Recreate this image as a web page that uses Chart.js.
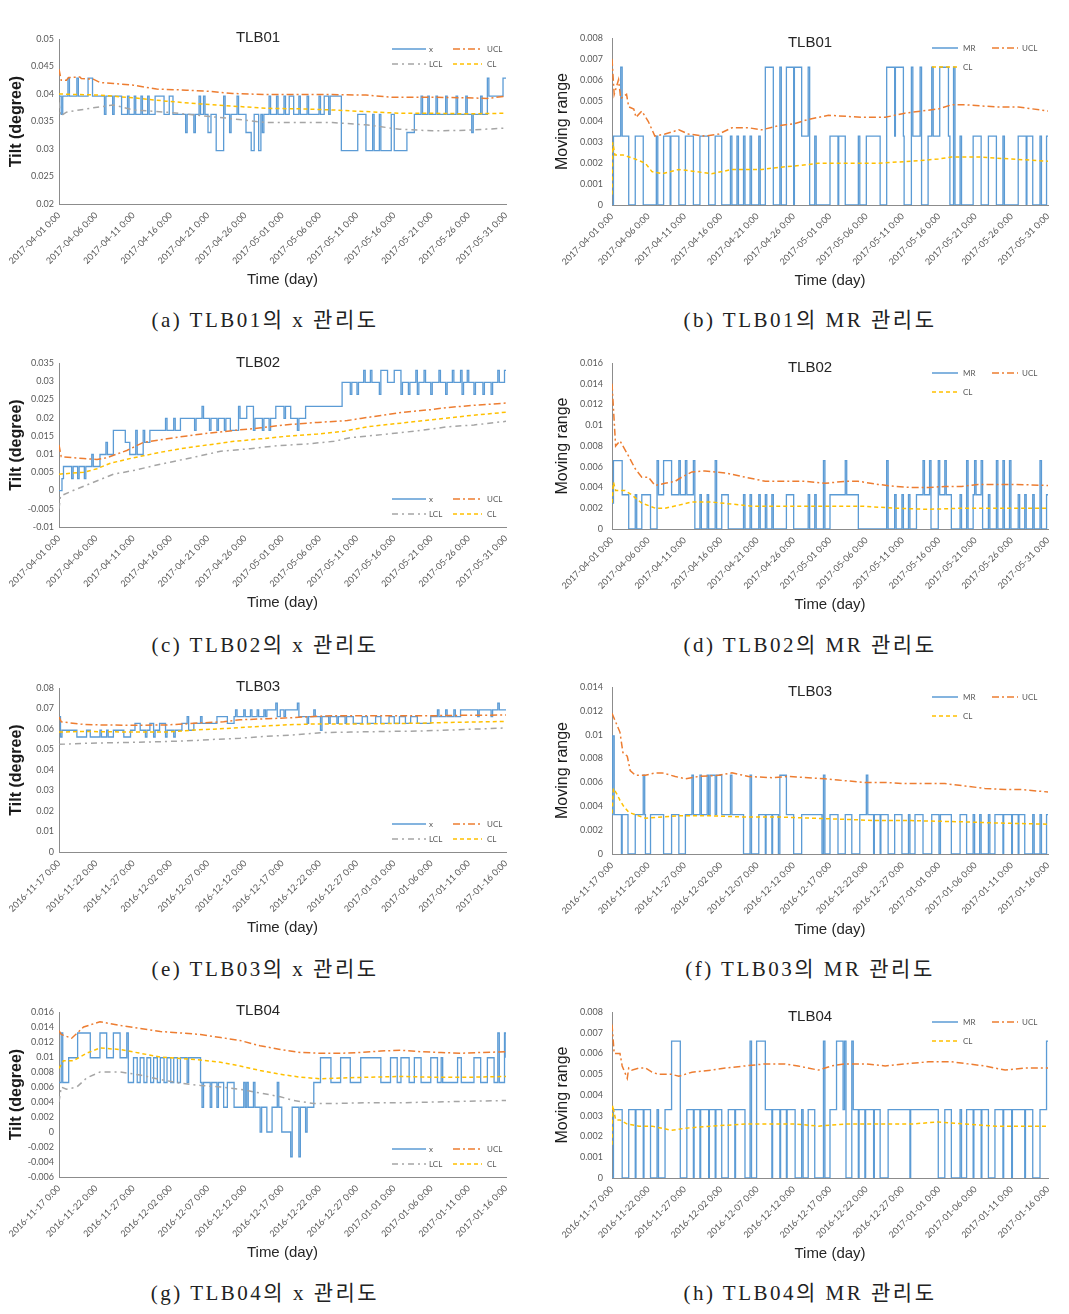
<!DOCTYPE html>
<html lang="ko">
<head>
  <meta charset="UTF-8">
  <title>TLB 관리도</title>
  <script src="https://cdn.jsdelivr.net/npm/chart.js"></script>
  <style>
    body { margin: 0; background: #fff; }
    #page { position: relative; width: 1069px; height: 1314px; overflow: hidden; }
    .caption {
      position: absolute; width: 520px; height: 30px; line-height: 30px;
      text-align: center; white-space: nowrap;
      font-family: "Liberation Serif", "Noto Sans CJK KR", serif;
      font-size: 21px; letter-spacing: 2.5px; color: #222;
    }
  </style>
</head>
<body>
<div id="page"></div>

<script>
  // x축 날짜 라벨 (5일 간격)
  const ticks0401 = ['2017-04-01 0:00', '2017-04-06 0:00', '2017-04-11 0:00', '2017-04-16 0:00', '2017-04-21 0:00', '2017-04-26 0:00', '2017-05-01 0:00', '2017-05-06 0:00', '2017-05-11 0:00', '2017-05-16 0:00', '2017-05-21 0:00', '2017-05-26 0:00', '2017-05-31 0:00'];
  const ticks1117 = ['2016-11-17 0:00', '2016-11-22 0:00', '2016-11-27 0:00', '2016-12-02 0:00', '2016-12-07 0:00', '2016-12-12 0:00', '2016-12-17 0:00', '2016-12-22 0:00', '2016-12-27 0:00', '2017-01-01 0:00', '2017-01-06 0:00', '2017-01-11 0:00', '2017-01-16 0:00'];

  // [day, value] — x / MR 는 계단형(값이 바뀌는 시점)
  const tlb01X = [[0,0.0396],[0.3,0.0363],[0.5,0.0396],[1.2,0.0429],[1.4,0.0396],[2.4,0.0429],[2.6,0.0396],[3.9,0.0429],[4.5,0.0396],[6.1,0.0363],[6.3,0.0396],[7.2,0.0363],[7.4,0.0396],[8.4,0.0363],[9.2,0.0396],[9.4,0.0363],[10.1,0.0396],[10.3,0.0363],[11.0,0.0396],[11.2,0.0363],[11.9,0.0396],[12.1,0.0363],[12.9,0.0396],[14.1,0.0363],[14.8,0.0396],[15.3,0.0363],[17.0,0.033],[17.2,0.0363],[18.1,0.033],[18.3,0.0363],[18.8,0.0396],[19.0,0.0363],[19.4,0.0396],[19.6,0.0363],[20.0,0.033],[20.4,0.0363],[21.1,0.0297],[22.1,0.0396],[22.3,0.0363],[22.9,0.033],[23.1,0.0363],[23.9,0.0396],[24.1,0.0363],[25.1,0.033],[25.8,0.0297],[26.2,0.0363],[26.8,0.0297],[27.1,0.0363],[27.3,0.033],[27.5,0.0363],[28.2,0.0396],[28.4,0.0363],[29.2,0.0396],[29.4,0.0363],[30.2,0.0396],[30.4,0.0363],[30.9,0.0396],[31.5,0.0363],[32.2,0.0396],[32.4,0.0363],[33.3,0.0396],[33.5,0.0363],[34.9,0.0396],[35.1,0.0363],[35.6,0.0396],[36.2,0.0363],[36.4,0.0396],[37.9,0.0297],[40.1,0.0363],[41.2,0.0297],[42.1,0.0363],[42.3,0.0297],[43.0,0.0363],[43.2,0.0297],[44.6,0.0363],[45.0,0.0297],[46.7,0.033],[47.7,0.0363],[48.6,0.0396],[48.8,0.0363],[49.5,0.0396],[49.7,0.0363],[50.6,0.0396],[50.8,0.0363],[51.9,0.0396],[52.1,0.0363],[53.3,0.0396],[53.5,0.0363],[54.6,0.0396],[54.8,0.0363],[55.4,0.033],[55.6,0.0363],[56.6,0.0396],[56.8,0.0363],[57.5,0.0429],[57.7,0.0396],[59.6,0.0429],[60,0.0429]];
  const tlb01XUcl = [[0,0.0445],[0.3,0.0425],[1.0,0.0425],[1.3,0.043],[2.8,0.0431],[3.0,0.0428],[4.6,0.0427],[5.5,0.0421],[7.3,0.0419],[10.0,0.0416],[13.1,0.0409],[17.1,0.0407],[20.0,0.0405],[23.3,0.0401],[27.8,0.0399],[32.3,0.0399],[36.7,0.0399],[41.2,0.0398],[44.8,0.0394],[50.1,0.0394],[54.6,0.0393],[57.5,0.0392],[60,0.0396]];
  const tlb01XCl = [[0,0.04],[5.5,0.0398],[10.0,0.0393],[14.4,0.0387],[18.9,0.0382],[23.3,0.0378],[27.8,0.0374],[32.3,0.0373],[36.7,0.0371],[41.2,0.0368],[45.7,0.0365],[50.1,0.0365],[54.6,0.0364],[60,0.0365]];
  const tlb01XLcl = [[0,0.0385],[0.2,0.036],[1.0,0.0367],[4.6,0.0375],[7.3,0.038],[10.0,0.0371],[14.4,0.0367],[18.9,0.0361],[23.3,0.0355],[27.8,0.0348],[32.3,0.0348],[36.7,0.0348],[41.2,0.0344],[45.7,0.0336],[50.1,0.0333],[54.6,0.0334],[60,0.0338]];

  const tlb01Mr = [[0,0],[0.2,0.0033],[1.2,0.0066],[1.4,0.0033],[2.3,0],[3.2,0.0033],[4.3,0],[6.1,0.0033],[6.3,0],[7.1,0.0033],[8.0,0],[8.1,0.0033],[9.2,0],[10.1,0.0033],[11.2,0],[12.1,0.0033],[13.3,0],[14.2,0.0033],[15.1,0],[16.3,0.0033],[16.5,0],[17.2,0.0033],[17.4,0],[18.1,0.0033],[18.3,0],[19.0,0.0033],[19.2,0],[20.2,0.0033],[20.4,0],[21.1,0.0066],[22.2,0],[23.1,0.0066],[23.3,0],[24.0,0.0066],[25.0,0],[25.1,0.0066],[26.1,0.0033],[27.0,0.0066],[27.2,0],[27.9,0.0033],[28.1,0],[30.0,0.0033],[31.1,0],[31.2,0.0033],[32.1,0],[33.9,0.0033],[34.1,0],[35.0,0.0033],[36.9,0],[37.8,0.0066],[38.9,0.0033],[39.0,0.0066],[40.1,0.0033],[40.2,0],[41.2,0.0066],[41.4,0.0033],[42.4,0.0066],[42.6,0],[43.5,0.0033],[44.0,0.0066],[44.2,0.0033],[45.1,0.0066],[46.3,0.0033],[46.5,0],[47.0,0.0066],[47.2,0],[47.9,0.0033],[48.1,0],[49.7,0.0033],[50.8,0],[51.8,0.0033],[52.9,0],[53.8,0.0033],[54.0,0],[55.9,0.0033],[57.0,0],[57.1,0.0033],[57.9,0],[58.9,0.0033],[59.1,0],[59.8,0.0033],[60,0.0033]];
  const tlb01MrUcl = [[0,0.007],[0.3,0.0053],[0.9,0.006],[1.2,0.0051],[2.0,0.0053],[2.3,0.0047],[3.0,0.0046],[3.3,0.0042],[4.1,0.0045],[5.0,0.004],[5.9,0.0033],[7.3,0.0034],[9.2,0.0036],[10.5,0.0034],[12.8,0.0033],[14.7,0.0034],[16.5,0.0037],[18.8,0.0037],[20.6,0.0036],[22.9,0.0038],[25.2,0.0039],[27.0,0.0041],[29.8,0.0043],[34.4,0.0042],[37.6,0.0042],[40.3,0.0044],[42.6,0.0045],[44.9,0.0046],[46.7,0.0048],[48.6,0.0048],[52.7,0.0047],[55.9,0.0047],[60,0.0045]];
  const tlb01MrCl = [[0,0.0005],[0.1,0.003],[0.4,0.0024],[1.5,0.0024],[3.2,0.0022],[4.6,0.002],[5.5,0.0016],[6.9,0.0015],[9.2,0.0017],[11.5,0.0016],[13.7,0.0015],[16.5,0.0017],[20.6,0.0017],[22.9,0.0018],[26.1,0.0019],[28.4,0.002],[32.1,0.002],[36.7,0.002],[41.2,0.0021],[44.9,0.0022],[46.7,0.0023],[50.4,0.0023],[55.0,0.0022],[60,0.0021]];

  const tlb02X = [[0,0.0],[0.4,0.0033],[0.6,0.0066],[1.7,0.0033],[1.9,0.0066],[2.5,0.0033],[2.7,0.0066],[3.4,0.0033],[3.6,0.0066],[4.4,0.0099],[4.6,0.0066],[5.5,0.0099],[6.3,0.0132],[6.5,0.0099],[7.3,0.0165],[8.9,0.0132],[9.5,0.0099],[10.3,0.0165],[10.5,0.0099],[11.3,0.0165],[11.5,0.0132],[12.2,0.0165],[14.3,0.0198],[14.5,0.0165],[15.4,0.0198],[15.6,0.0165],[16.3,0.0198],[18.2,0.0165],[18.4,0.0198],[19.2,0.0231],[19.4,0.0198],[20.2,0.0165],[20.4,0.0198],[21.2,0.0165],[21.4,0.0198],[22.2,0.0165],[22.4,0.0198],[23.0,0.0165],[24.1,0.0231],[24.3,0.0198],[25.2,0.0231],[26.1,0.0165],[26.3,0.0198],[27.3,0.0165],[27.5,0.0198],[28.2,0.0165],[28.4,0.0198],[29.1,0.0231],[30.2,0.0198],[30.4,0.0231],[31.1,0.0198],[32.0,0.0165],[32.2,0.0198],[33.1,0.0231],[38.0,0.0297],[39.1,0.0264],[39.3,0.0297],[40.0,0.0264],[40.2,0.0297],[40.9,0.033],[41.1,0.0297],[41.8,0.033],[42.0,0.0297],[43.0,0.0264],[43.2,0.033],[44.1,0.0297],[45.0,0.033],[45.9,0.0264],[46.1,0.0297],[46.9,0.0264],[47.1,0.0297],[47.9,0.033],[48.1,0.0264],[48.3,0.0297],[49.0,0.033],[49.2,0.0297],[49.9,0.0264],[50.1,0.0297],[51.0,0.033],[51.2,0.0297],[51.9,0.0264],[52.1,0.0297],[52.8,0.033],[53.0,0.0297],[53.9,0.033],[54.1,0.0264],[54.3,0.0297],[54.8,0.033],[55.0,0.0297],[55.7,0.0264],[55.9,0.0297],[56.9,0.0264],[57.1,0.0297],[58.0,0.0264],[58.2,0.0297],[58.9,0.033],[59.1,0.0297],[59.8,0.033],[60,0.033]];
  const tlb02XUcl = [[0,0.0125],[0.3,0.0093],[3.3,0.0088],[5.1,0.0085],[6.4,0.009],[9.1,0.011],[11.3,0.0132],[14.5,0.0142],[17.2,0.015],[19.9,0.0157],[23.5,0.0165],[27.1,0.0172],[30.2,0.018],[34.7,0.0187],[38.7,0.0192],[40.5,0.0198],[43.2,0.0206],[45.9,0.0214],[49.9,0.0222],[52.2,0.0228],[55.7,0.0234],[60,0.024]];
  const tlb02XCl = [[0,0.0045],[3.3,0.005],[5.1,0.006],[6.9,0.0075],[10.0,0.009],[13.6,0.0105],[16.3,0.0115],[19.9,0.0125],[23.5,0.0135],[27.1,0.0142],[31.1,0.015],[34.7,0.0155],[38.3,0.0163],[41.4,0.0175],[45.9,0.0185],[50.4,0.0195],[54.8,0.0205],[60,0.0215]];
  const tlb02XLcl = [[0,-0.005],[0.2,-0.0015],[1.9,0],[3.7,0.0015],[5.5,0.003],[7.3,0.0045],[10.0,0.0055],[12.7,0.0068],[15.4,0.008],[18.9,0.0095],[21.7,0.0108],[25.7,0.0115],[29.3,0.0123],[33.3,0.0128],[36.9,0.0135],[39.1,0.0145],[44.1,0.0155],[48.6,0.0165],[52.2,0.0175],[55.7,0.018],[60,0.019]];

  const tlb02Mr = [[0,0.0025],[0.2,0.0066],[1.4,0.0033],[2.3,0],[3.2,0.0033],[3.4,0],[4.1,0.0033],[5.3,0],[6.2,0.0066],[6.4,0.0033],[7.1,0.0066],[8.2,0.0033],[9.2,0.0066],[9.4,0.0033],[10.1,0.0066],[10.3,0.0033],[11.2,0.0066],[11.4,0],[12.1,0.0033],[12.3,0],[13.1,0.0033],[13.3,0],[14.2,0.0066],[14.4,0],[15.1,0.0033],[16.0,0],[18.1,0.0033],[18.3,0],[19.0,0.0033],[19.2,0],[20.2,0.0033],[20.4,0],[21.1,0.0033],[21.3,0],[22.0,0.0033],[22.2,0],[24.0,0.0033],[25.0,0],[27.0,0.0033],[27.2,0],[27.9,0.0033],[28.1,0],[29.1,0.0066],[29.3,0],[30.0,0.0033],[32.1,0.0066],[32.3,0.0033],[33.9,0],[37.8,0.0066],[38.0,0],[38.9,0.0033],[39.1,0],[39.9,0.0033],[40.1,0],[40.8,0.0033],[41.0,0],[41.9,0.0033],[42.8,0.0066],[43.0,0.0033],[43.7,0.0066],[43.9,0],[44.9,0.0066],[45.1,0.0033],[45.8,0.0066],[46.0,0.0033],[46.7,0],[47.9,0.0033],[48.1,0],[48.8,0.0066],[49.0,0],[49.7,0.0033],[49.9,0.0066],[50.1,0.0033],[50.8,0.0066],[51.0,0],[51.8,0.0033],[52.0,0],[52.9,0.0066],[53.1,0],[53.8,0.0066],[54.0,0],[54.7,0.0066],[54.9,0],[55.9,0.0033],[56.1,0],[56.8,0.0033],[57.0,0],[57.9,0.0033],[58.1,0],[58.9,0.0066],[59.1,0],[59.8,0.0033],[60,0.0033]];
  const tlb02MrUcl = [[0,0.014],[0.5,0.008],[1.1,0.0085],[2.3,0.007],[3.2,0.0058],[4.1,0.005],[5.0,0.005],[5.9,0.0042],[7.3,0.0044],[8.7,0.0046],[9.6,0.005],[11.0,0.0055],[12.8,0.0056],[15.6,0.0054],[18.3,0.005],[21.1,0.0046],[23.8,0.0046],[26.6,0.0046],[29.3,0.0044],[32.1,0.0046],[33.9,0.0046],[36.6,0.0043],[38.9,0.0041],[41.2,0.004],[43.5,0.004],[45.8,0.0041],[48.1,0.0041],[50.4,0.0043],[55.0,0.0043],[60,0.0042]];
  const tlb02MrCl = [[0,0.0025],[0.2,0.0045],[0.5,0.0037],[1.8,0.0037],[2.7,0.0033],[4.1,0.0025],[6.0,0.002],[7.3,0.002],[9.2,0.0023],[11.0,0.0026],[13.7,0.0026],[16.5,0.0024],[19.2,0.0022],[22.9,0.0022],[27.5,0.0022],[32.1,0.0022],[34.4,0.0022],[39.0,0.002],[43.5,0.0019],[48.1,0.002],[52.7,0.002],[60,0.002]];

  const tlb03X = [[0,0.066],[0.2,0.0561],[0.4,0.0594],[2.4,0.0561],[3.7,0.0594],[4.2,0.0561],[5.5,0.0594],[5.7,0.0561],[6.4,0.0594],[6.6,0.0561],[7.3,0.0594],[8.7,0.0561],[9.6,0.0594],[10.2,0.0627],[10.9,0.0594],[11.6,0.0561],[11.8,0.0594],[12.2,0.0627],[12.7,0.0561],[12.9,0.0594],[13.5,0.0627],[14.3,0.0561],[14.5,0.0594],[15.4,0.0561],[15.6,0.0594],[16.5,0.0627],[17.2,0.066],[17.4,0.0594],[18.1,0.0627],[19.0,0.066],[19.2,0.0627],[21.2,0.066],[22.6,0.0627],[23.5,0.066],[23.7,0.0693],[23.9,0.066],[24.8,0.0693],[25.0,0.066],[25.7,0.0693],[25.9,0.066],[26.6,0.0693],[26.8,0.066],[27.5,0.0693],[27.7,0.066],[27.9,0.0693],[29.1,0.0726],[29.3,0.066],[29.7,0.0693],[30.2,0.066],[30.4,0.0693],[32.0,0.0726],[32.2,0.066],[33.3,0.0627],[33.5,0.066],[34.2,0.0693],[34.4,0.066],[35.1,0.0594],[35.3,0.066],[36.2,0.0627],[36.4,0.066],[37.3,0.0627],[37.5,0.066],[38.4,0.0627],[38.6,0.066],[39.5,0.0627],[40.7,0.066],[41.4,0.0627],[42.5,0.066],[43.2,0.0627],[44.3,0.066],[45.0,0.0627],[45.7,0.066],[46.5,0.0627],[47.2,0.066],[48.1,0.0627],[49.9,0.066],[50.8,0.0693],[51.0,0.066],[51.9,0.0693],[52.1,0.066],[53.0,0.0693],[53.2,0.066],[53.9,0.0693],[56.2,0.066],[56.4,0.0693],[58.0,0.066],[58.2,0.0693],[58.9,0.0726],[59.1,0.0693],[60,0.0693]];
  const tlb03XUcl = [[0,0.066],[0.3,0.0635],[3.3,0.0622],[5.5,0.062],[10.0,0.0618],[14.5,0.062],[17.2,0.0625],[19.0,0.063],[22.1,0.0635],[24.3,0.0645],[27.9,0.065],[31.1,0.0655],[34.7,0.0662],[36.9,0.0665],[41.4,0.0665],[45.9,0.0665],[50.4,0.0665],[54.8,0.0667],[60,0.0668]];
  const tlb03XCl = [[0,0.0585],[3.3,0.0588],[10.0,0.0585],[14.5,0.0585],[18.1,0.0595],[21.2,0.06],[25.7,0.061],[30.2,0.062],[34.7,0.0625],[41.4,0.0625],[48.1,0.0628],[52.6,0.0632],[60,0.0637]];
  const tlb03XLcl = [[0,0.0525],[3.3,0.053],[10.0,0.0535],[15.4,0.054],[18.9,0.0545],[21.2,0.055],[24.3,0.0555],[27.9,0.0565],[31.1,0.057],[35.1,0.0582],[39.1,0.0585],[43.6,0.0588],[48.1,0.059],[52.6,0.0595],[56.2,0.06],[60,0.0605]];

  const tlb03Mr = [[0,0.0033],[0.1,0.0099],[0.3,0.0033],[1.3,0],[1.4,0.0033],[2.2,0],[3.2,0.0033],[4.3,0.0066],[4.5,0.0033],[4.6,0],[5.3,0.0033],[7.1,0],[8.2,0.0033],[9.2,0],[10.1,0.0033],[11.0,0.0066],[11.2,0.0033],[12.1,0.0066],[12.3,0.0033],[13.1,0.0066],[13.3,0.0033],[13.5,0.0066],[14.2,0.0033],[14.4,0.0066],[15.1,0.0033],[16.3,0.0066],[16.5,0.0033],[18.1,0],[19.0,0.0066],[19.2,0],[20.2,0.0033],[21.1,0],[21.2,0.0033],[22.0,0],[22.1,0.0033],[22.9,0],[23.1,0.0066],[24.0,0.0033],[25.0,0],[26.1,0.0033],[28.9,0],[29.1,0.0066],[29.3,0],[30.0,0.0033],[31.1,0],[32.1,0.0033],[33.0,0],[34.1,0.0033],[35.0,0.0066],[35.2,0.0033],[36.0,0],[36.1,0.0033],[36.9,0],[37.0,0.0033],[38.0,0],[38.9,0.0033],[39.9,0],[40.8,0.0033],[41.0,0],[41.7,0.0033],[42.8,0],[44.0,0.0033],[45.0,0],[45.2,0.0033],[46.7,0],[47.9,0.0033],[48.8,0],[49.7,0.0033],[49.9,0],[50.6,0.0033],[50.8,0],[51.8,0.0033],[52.0,0],[52.7,0.0033],[53.8,0],[53.9,0.0033],[55.0,0],[55.1,0.0033],[55.9,0],[56.0,0.0033],[56.8,0],[57.9,0.0033],[58.1,0],[58.9,0.0033],[59.1,0],[59.8,0.0033],[60,0.0033]];
  const tlb03MrUcl = [[0,0.0118],[1.1,0.0102],[1.5,0.0085],[2.1,0.0082],[2.5,0.007],[3.2,0.0066],[4.6,0.0066],[5.9,0.0068],[6.9,0.0068],[8.7,0.0065],[10.1,0.0063],[11.9,0.0065],[14.7,0.0066],[16.5,0.0068],[18.8,0.0065],[22.0,0.0064],[24.3,0.0065],[27.0,0.0064],[29.3,0.0063],[31.1,0.0062],[34.8,0.006],[37.6,0.006],[40.3,0.0059],[43.5,0.0059],[45.8,0.0059],[48.6,0.0057],[51.3,0.0055],[54.1,0.0054],[56.4,0.0054],[60,0.0052]];
  const tlb03MrCl = [[0,0.0034],[0.2,0.0055],[0.7,0.005],[1.1,0.0045],[1.6,0.004],[2.3,0.0035],[3.2,0.0033],[4.6,0.003],[9.2,0.0032],[13.7,0.0032],[18.3,0.0031],[22.9,0.0031],[27.5,0.003],[32.1,0.0029],[36.6,0.0028],[41.2,0.0028],[48.1,0.0027],[52.7,0.0026],[60,0.0025]];

  const tlb04X = [[0,0.0066],[0.3,0.0132],[0.5,0.0066],[1.3,0.0099],[2.5,0.0132],[4.2,0.0099],[5.5,0.0132],[6.4,0.0099],[7.3,0.0132],[8.2,0.0099],[9.1,0.0132],[9.3,0.0066],[10.0,0.0099],[10.5,0.0066],[10.9,0.0099],[11.4,0.0066],[11.8,0.0099],[12.3,0.0066],[12.7,0.0099],[13.2,0.0066],[13.6,0.0099],[14.1,0.0066],[14.5,0.0099],[15.0,0.0066],[15.4,0.0099],[15.9,0.0066],[16.3,0.0099],[17.2,0.0066],[17.4,0.0099],[19.0,0.0066],[19.2,0.0033],[19.4,0.0066],[20.3,0.0033],[20.5,0.0066],[21.2,0.0033],[21.4,0.0066],[22.1,0.0033],[22.6,0.0066],[23.5,0.0033],[24.8,0.0066],[25.0,0.0033],[25.2,0.0066],[25.4,0.0033],[26.1,0.0066],[26.3,0.0033],[27.0,0],[27.2,0.0033],[27.9,0],[28.6,0.0033],[29.3,0.0066],[29.5,0.0033],[29.9,0],[31.1,-0.0033],[31.3,0.0033],[32.2,-0.0033],[32.4,0.0033],[33.1,0],[33.3,0.0033],[34.2,0.0066],[35.1,0.0099],[36.5,0.0066],[37.8,0.0099],[39.1,0.0066],[40.5,0.0099],[43.2,0.0066],[44.5,0.0099],[45.4,0.0066],[45.9,0.0099],[47.0,0.0066],[47.7,0.0099],[48.6,0.0066],[49.9,0.0099],[50.8,0.0066],[51.3,0.0099],[51.5,0.0066],[53.5,0.0099],[54.0,0.0066],[55.7,0.0099],[56.6,0.0066],[57.5,0.0099],[58.4,0.0066],[58.9,0.0132],[59.1,0.0066],[59.8,0.0132],[60,0.0099]];
  const tlb04XUcl = [[0,0.0135],[0.3,0.013],[1.7,0.0125],[3.3,0.014],[5.5,0.0147],[8.2,0.0142],[10.9,0.0138],[13.6,0.0134],[16.3,0.0132],[19.0,0.013],[21.7,0.0126],[24.3,0.0122],[27.0,0.0115],[29.7,0.011],[32.4,0.0106],[35.1,0.0105],[37.8,0.0105],[40.5,0.0106],[43.2,0.0108],[45.9,0.0109],[48.6,0.0107],[51.3,0.0106],[54.0,0.0105],[56.6,0.0106],[60,0.0107]];
  const tlb04XCl = [[0,0.0085],[0.6,0.0095],[1.9,0.0095],[3.7,0.0105],[5.5,0.0112],[8.2,0.011],[10.9,0.0105],[13.6,0.01],[16.3,0.0098],[19.0,0.0096],[21.7,0.0093],[24.3,0.0088],[27.0,0.0082],[29.7,0.0077],[32.4,0.0073],[35.1,0.0071],[37.8,0.0072],[41.4,0.0073],[45.9,0.0074],[50.4,0.0073],[54.8,0.0073],[60,0.0074]];
  const tlb04XLcl = [[0,0.004],[0.3,0.006],[1.0,0.0057],[2.4,0.006],[3.7,0.0072],[5.5,0.008],[8.2,0.008],[10.9,0.0076],[13.6,0.007],[16.3,0.0065],[19.0,0.0062],[21.7,0.006],[24.3,0.0057],[27.0,0.0052],[29.7,0.0047],[31.5,0.0042],[34.2,0.0038],[36.9,0.0038],[41.4,0.0039],[45.9,0.0039],[50.4,0.004],[54.8,0.0041],[60,0.0042]];

  const tlb04Mr = [[0,0],[0.2,0.0033],[1.4,0],[2.3,0.0033],[3.2,0],[3.3,0.0033],[4.3,0],[4.4,0.0033],[5.3,0],[6.2,0.0033],[6.4,0],[7.3,0.0033],[8.2,0.0066],[9.4,0],[10.3,0.0033],[11.2,0],[11.3,0.0033],[12.1,0],[12.2,0.0033],[13.3,0],[13.4,0.0033],[14.2,0],[14.3,0.0033],[15.1,0],[16.0,0.0033],[16.9,0],[17.0,0.0033],[18.3,0],[19.0,0.0066],[19.2,0],[19.9,0.0066],[21.1,0.0033],[22.0,0],[22.1,0.0033],[23.1,0],[23.2,0.0033],[24.0,0],[24.1,0.0033],[25.2,0],[26.1,0.0033],[26.3,0],[27.0,0.0033],[27.9,0],[29.1,0.0066],[29.3,0],[30.0,0.0033],[30.9,0.0066],[31.8,0.0033],[32.0,0.0066],[32.2,0],[33.0,0.0066],[33.2,0.0033],[33.9,0],[34.0,0.0033],[34.8,0],[34.9,0.0033],[36.0,0],[36.1,0.0033],[36.9,0],[38.0,0.0033],[41.0,0],[41.1,0.0033],[44.9,0],[45.8,0.0033],[46.7,0],[47.9,0.0033],[48.1,0],[48.8,0.0033],[49.7,0],[49.8,0.0033],[50.8,0],[50.9,0.0033],[51.8,0],[52.7,0.0033],[53.8,0],[53.9,0.0033],[55.0,0],[55.1,0.0033],[56.8,0],[56.9,0.0033],[57.9,0],[58.9,0.0033],[59.8,0.0066],[60,0.0066]];
  const tlb04MrUcl = [[0,0.0074],[0.3,0.006],[1.1,0.006],[1.4,0.0054],[2.1,0.0048],[2.3,0.0053],[2.7,0.0052],[3.7,0.0053],[4.6,0.0053],[5.5,0.0051],[6.4,0.005],[8.2,0.005],[9.2,0.0049],[11.0,0.0051],[13.7,0.0052],[15.6,0.0053],[18.3,0.0054],[21.1,0.0055],[23.8,0.0055],[25.6,0.0054],[28.4,0.0052],[30.2,0.0054],[32.1,0.0055],[34.8,0.0055],[37.6,0.0054],[40.3,0.0055],[43.5,0.0056],[46.7,0.0056],[49.0,0.0055],[51.3,0.0054],[54.1,0.0052],[56.8,0.0053],[60,0.0053]];
  const tlb04MrCl = [[0,0.0016],[0.1,0.0035],[0.5,0.0028],[1.1,0.0028],[2.1,0.0026],[3.7,0.0025],[5.5,0.0025],[8.2,0.0023],[10.1,0.0024],[13.7,0.0025],[18.3,0.0026],[22.9,0.0026],[25.2,0.0026],[28.4,0.0025],[32.1,0.0026],[36.6,0.0026],[41.2,0.0026],[44.9,0.0027],[48.6,0.0026],[52.7,0.0025],[60,0.0025]];

  // 색상 / 선 모양 (엑셀 기본)
  const BLUE = '#5B9BD5', ORANGE = '#ED7D31', GRAY = '#A5A5A5', YELLOW = '#FFC000';
  const DASH_UCL = [7, 3, 2, 3], DASH_LCL = [6, 4, 2, 4], DASH_CL = [4, 3];

  const panels = [
    { side: 'L', kind: 'x', title: 'TLB01', plotTop: 39, plotBottom: 204, titleY: 38, legendTop: true, dates: ticks0401, yMin: 0.02, yMax: 0.05, yStep: 0.005, main: tlb01X, ucl: tlb01XUcl, cl: tlb01XCl, lcl: tlb01XLcl, caption: '(a) TLB01의 x 관리도', capY: 320 },
    { side: 'R', kind: 'MR', title: 'TLB01', plotTop: 38, plotBottom: 205, titleY: 43, legendTop: true, dates: ticks0401, yMin: 0, yMax: 0.008, yStep: 0.001, main: tlb01Mr, ucl: tlb01MrUcl, cl: tlb01MrCl, caption: '(b) TLB01의 MR 관리도', capY: 320 },
    { side: 'L', kind: 'x', title: 'TLB02', plotTop: 363, plotBottom: 527, titleY: 363, legendTop: false, dates: ticks0401, yMin: -0.01, yMax: 0.035, yStep: 0.005, main: tlb02X, ucl: tlb02XUcl, cl: tlb02XCl, lcl: tlb02XLcl, caption: '(c) TLB02의 x 관리도', capY: 645 },
    { side: 'R', kind: 'MR', title: 'TLB02', plotTop: 363, plotBottom: 529, titleY: 368, legendTop: true, dates: ticks0401, yMin: 0, yMax: 0.016, yStep: 0.002, main: tlb02Mr, ucl: tlb02MrUcl, cl: tlb02MrCl, caption: '(d) TLB02의 MR 관리도', capY: 645 },
    { side: 'L', kind: 'x', title: 'TLB03', plotTop: 688, plotBottom: 852, titleY: 687, legendTop: false, dates: ticks1117, yMin: 0, yMax: 0.08, yStep: 0.01, main: tlb03X, ucl: tlb03XUcl, cl: tlb03XCl, lcl: tlb03XLcl, caption: '(e) TLB03의 x 관리도', capY: 969 },
    { side: 'R', kind: 'MR', title: 'TLB03', plotTop: 687, plotBottom: 854, titleY: 692, legendTop: true, dates: ticks1117, yMin: 0, yMax: 0.014, yStep: 0.002, main: tlb03Mr, ucl: tlb03MrUcl, cl: tlb03MrCl, caption: '(f) TLB03의 MR 관리도', capY: 969 },
    { side: 'L', kind: 'x', title: 'TLB04', plotTop: 1012, plotBottom: 1177, titleY: 1011, legendTop: false, dates: ticks1117, yMin: -0.006, yMax: 0.016, yStep: 0.002, main: tlb04X, ucl: tlb04XUcl, cl: tlb04XCl, lcl: tlb04XLcl, caption: '(g) TLB04의 x 관리도', capY: 1293 },
    { side: 'R', kind: 'MR', title: 'TLB04', plotTop: 1012, plotBottom: 1178, titleY: 1017, legendTop: true, dates: ticks1117, yMin: 0, yMax: 0.008, yStep: 0.001, main: tlb04Mr, ucl: tlb04MrUcl, cl: tlb04MrCl, caption: '(h) TLB04의 MR 관리도', capY: 1293 }
  ];

  // 제목 + 차트 안쪽 범례
  const decor = {
    id: 'decor',
    afterDatasetsDraw(chart, args, o) {
      const ctx = chart.ctx;
      ctx.save();
      ctx.font = '15px "Liberation Sans", Arial, sans-serif';
      ctx.fillStyle = '#262626';
      ctx.textAlign = 'center';
      ctx.textBaseline = 'middle';
      ctx.fillText(o.title, o.titleX, o.titleY);

      ctx.font = '8px Lato, "Noto Sans", sans-serif';
      ctx.textAlign = 'left';
      ctx.fillStyle = '#595959';
      o.items.forEach(it => {
        const y = o.rows[it.row];
        const c = o.cols[it.col];
        ctx.beginPath();
        ctx.setLineDash(it.dash);
        ctx.strokeStyle = it.color;
        ctx.lineWidth = 1.5;
        ctx.moveTo(c[0], y);
        ctx.lineTo(c[1], y);
        ctx.stroke();
        ctx.setLineDash([]);
        ctx.fillText(it.label, c[2], y);
      });
      ctx.restore();
    }
  };

  const toXY = pairs => pairs.map(([x, y]) => ({ x, y }));
  const fmt = v => String(+v.toFixed(4));

  function limitLine(label, pairs, color, dash) {
    return { label, data: toXY(pairs), borderColor: color, borderWidth: 1.5, borderDash: dash, pointRadius: 0, tension: 0, fill: false };
  }

  const page = document.getElementById('page');

  panels.forEach(p => {
    const right = p.side === 'R';
    const cLeft = right ? 540 : 0;
    const cWidth = right ? 529 : 525;
    const plotLeft = right ? 612 : 59;
    const plotRight = right ? 1048 : 506;
    const top = p.plotTop - 32;
    const height = p.plotBottom + 85 - top;

    const canvas = document.createElement('canvas');
    canvas.width = cWidth;
    canvas.height = height;
    canvas.style.cssText = `position:absolute;left:${cLeft}px;top:${top}px;width:${cWidth}px;height:${height}px;`;
    page.appendChild(canvas);

    const cap = document.createElement('div');
    cap.className = 'caption';
    cap.textContent = p.caption;
    cap.style.left = (right ? 550 : 5) + 'px';
    cap.style.top = (p.capY - 15) + 'px';
    page.appendChild(cap);

    // 범례 위치 (캔버스 좌표)
    const rows = p.legendTop
      ? [p.plotTop + 10 - top, p.plotTop + (right ? 29 : 25) - top]
      : [p.plotBottom - 28 - top, p.plotBottom - 13 - top];
    const cols = right
      ? [[932 - cLeft, 958 - cLeft, 963 - cLeft], [992 - cLeft, 1018 - cLeft, 1022 - cLeft]]
      : [[392, 426, 429], [453, 482, 487]];
    const items = [
      { label: p.kind, color: BLUE, dash: [], col: 0, row: 0 },
      { label: 'UCL', color: ORANGE, dash: DASH_UCL, col: 1, row: 0 }
    ];
    if (p.lcl) items.push({ label: 'LCL', color: GRAY, dash: DASH_LCL, col: 0, row: 1 });
    items.push({ label: 'CL', color: YELLOW, dash: DASH_CL, col: p.lcl ? 1 : 0, row: 1 });

    const datasets = [limitLine('UCL', p.ucl, ORANGE, DASH_UCL)];
    if (p.lcl) datasets.push(limitLine('LCL', p.lcl, GRAY, DASH_LCL));
    datasets.push(limitLine('CL', p.cl, YELLOW, DASH_CL));
    datasets.push({ label: p.kind, data: toXY(p.main), borderColor: BLUE, borderWidth: 1.3, stepped: true, pointRadius: 0, fill: false });

    const tickFont = { family: 'Lato, "Noto Sans", sans-serif', size: 9 };

    new Chart(canvas.getContext('2d'), {
      type: 'line',
      data: { datasets },
      options: {
        responsive: false,
        animation: false,
        devicePixelRatio: 1,
        layout: { padding: { top: p.plotTop - top, right: cLeft + cWidth - plotRight, left: 0, bottom: 0 } },
        plugins: {
          legend: { display: false },
          tooltip: { enabled: false },
          decor: { title: p.title, titleX: (right ? 810 : 258) - cLeft, titleY: p.titleY - top, items, rows, cols }
        },
        scales: {
          x: {
            type: 'linear', min: 0, max: 60,
            afterFit: s => { s.height = 85; },
            grid: { display: false, drawTicks: false },
            border: { display: true, color: '#8C8C8C', width: 1 },
            ticks: {
              stepSize: 5, autoSkip: false, minRotation: 45, maxRotation: 45, padding: 6,
              color: '#595959', font: tickFont,
              callback: (v, i) => p.dates[i]
            },
            title: {
              display: true, text: 'Time (day)', color: '#262626',
              font: { family: '"Liberation Sans", Arial, sans-serif', size: 15 },
              padding: { top: 0, bottom: 0 }
            }
          },
          y: {
            min: p.yMin, max: p.yMax,
            afterFit: s => { s.width = plotLeft - cLeft; },
            grid: { display: false, drawTicks: false },
            border: { display: true, color: '#8C8C8C', width: 1 },
            ticks: { stepSize: p.yStep, padding: right ? 9 : 5, color: '#595959', font: tickFont, callback: v => fmt(v) },
            title: {
              display: true,
              text: p.kind === 'x' ? 'Tilt (degree)' : 'Moving range',
              color: '#1a1a1a',
              font: { family: '"Liberation Sans", Arial, sans-serif', size: 16, weight: p.kind === 'x' ? 'bold' : 'normal' },
              padding: { top: right ? 13 : 7, bottom: 0 }
            }
          }
        }
      },
      plugins: [decor]
    });
  });
</script>
</body>
</html>
